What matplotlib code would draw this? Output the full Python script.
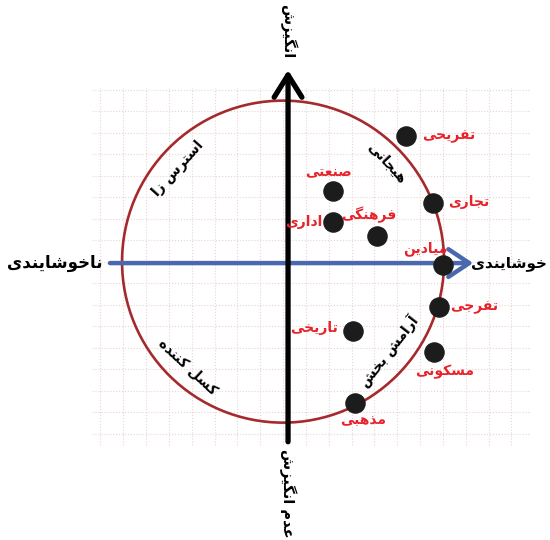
import numpy as np
import matplotlib.pyplot as plt
from matplotlib.patches import Circle, FancyArrowPatch

# Place categories and their position on the circumplex (radius = 1)
places = ["تفریحی", "صنعتی", "تجاری", "اداری", "فرهنگی",
          "میادین", "تفرجی", "تاریخی", "مسکونی", "مذهبی"]
pleasure = [0.733, 0.280, 0.901, 0.280, 0.553, 0.963, 0.938, 0.404, 0.907, 0.416]
arousal = [0.789, 0.447, 0.373, 0.255, 0.168, -0.012, -0.273, -0.422, -0.553, -0.870]

# axis and quadrant captions
axis_top = "انگیزش"
axis_bottom = "عدم انگیزش"
axis_left = "ناخوشایندی"
axis_right = "خوشایندی"
quadrants = ["استرس زا", "هیجانی", "کسل کننده", "آرامش بخش"]

# --- simple Persian shaping (matplotlib does no contextual shaping) ---
# (isolated, final, initial, medial)
FORMS = {
    'ا': ('\uFE8D', '\uFE8E', None, None),
    'آ': ('\uFE81', '\uFE82', None, None),
    'ب': ('\uFE8F', '\uFE90', '\uFE91', '\uFE92'),
    'ت': ('\uFE95', '\uFE96', '\uFE97', '\uFE98'),
    'ج': ('\uFE9D', '\uFE9E', '\uFE9F', '\uFEA0'),
    'ح': ('\uFEA1', '\uFEA2', '\uFEA3', '\uFEA4'),
    'خ': ('\uFEA5', '\uFEA6', '\uFEA7', '\uFEA8'),
    'د': ('\uFEA9', '\uFEAA', None, None),
    'ذ': ('\uFEAB', '\uFEAC', None, None),
    'ر': ('\uFEAD', '\uFEAE', None, None),
    'ز': ('\uFEAF', '\uFEB0', None, None),
    'س': ('\uFEB1', '\uFEB2', '\uFEB3', '\uFEB4'),
    'ش': ('\uFEB5', '\uFEB6', '\uFEB7', '\uFEB8'),
    'ص': ('\uFEB9', '\uFEBA', '\uFEBB', '\uFEBC'),
    'ع': ('\uFEC9', '\uFECA', '\uFECB', '\uFECC'),
    'ف': ('\uFED1', '\uFED2', '\uFED3', '\uFED4'),
    'ل': ('\uFEDD', '\uFEDE', '\uFEDF', '\uFEE0'),
    'م': ('\uFEE1', '\uFEE2', '\uFEE3', '\uFEE4'),
    'ن': ('\uFEE5', '\uFEE6', '\uFEE7', '\uFEE8'),
    'ه': ('\uFEE9', '\uFEEA', '\uFEEB', '\uFEEC'),
    'و': ('\uFEED', '\uFEEE', None, None),
    'ک': ('\uFB8E', '\uFB8F', '\uFB90', '\uFB91'),
    'گ': ('\uFB92', '\uFB93', '\uFB94', '\uFB95'),
    'ی': ('\uFBFC', '\uFBFD', '\uFBFE', '\uFBFF'),
}


def fa(text):
    out = []
    for i, ch in enumerate(text):
        if ch not in FORMS:
            out.append(ch)
            continue
        prev = text[i - 1] if i > 0 else ''
        nxt = text[i + 1] if i + 1 < len(text) else ''
        iso, fin, ini, med = FORMS[ch]
        jp = prev in FORMS and FORMS[prev][2] is not None
        jn = ini is not None and nxt in FORMS
        if jp and jn:
            out.append(med)
        elif jp:
            out.append(fin)
        elif jn:
            out.append(ini)
        else:
            out.append(iso)
    return ''.join(out)[::-1]


plt.rcParams['font.family'] = ['DejaVu Sans']

fig = plt.figure(figsize=(5.5, 5.4), dpi=100)
ax = fig.add_axes([0, 0, 1, 1])
ax.set_xlim(-1.789, 1.627)
ax.set_ylim(-1.720, 1.634)
ax.set_aspect('equal')
ax.axis('off')

# background grid
cx, cy = -0.031, 0.009
gx0, gx1, gy0, gy1 = -1.22, 1.50, -1.13, 1.09
for k in range(-10, 12):
    x = cx + k * 0.1418
    if gx0 <= x <= gx1:
        ax.plot([x, x], [gy0, gy1], color='#ebd3d3', lw=0.8, ls=':', zorder=0)
    y = cy + k * 0.1335
    if gy0 <= y <= gy1:
        ax.plot([gx0, gx1], [y, y], color='#ebd3d3', lw=0.8, ls=':', zorder=0)

# circle
ax.add_patch(Circle((cx, cy), 1.0, fill=False, ec='#a52a2d', lw=1.9, zorder=2))

# axes arrows
ax.add_patch(FancyArrowPatch((-1.106, 0.0), (1.15, 0.0),
                             arrowstyle='->,head_length=0.75,head_width=0.5',
                             mutation_scale=20, color='#4a68ad', lw=3.2,
                             shrinkA=0, shrinkB=0, zorder=3))
ax.add_patch(FancyArrowPatch((0.0, -1.11), (0.0, 1.199),
                             arrowstyle='->,head_length=0.8,head_width=0.5',
                             mutation_scale=20, color='black', lw=3.8,
                             shrinkA=0, shrinkB=0, zorder=3))

# points and labels
ax.scatter(pleasure, arousal, s=190, color='#1c1c1c', zorder=5)
offsets = [(16, 0, 'left'), (-5, 19, 'center'), (15, 1, 'left'), (-11, 0, 'right'),
           (-8, 21, 'center'), (-18, 16, 'center'), (11, 0, 'left'),
           (-15, 3, 'right'), (11, -20, 'center'), (8, -18, 'center')]
for name, x, y, (dx, dy, ha) in zip(places, pleasure, arousal, offsets):
    ax.annotate(fa(name), (x, y), xytext=(dx * 0.72, dy * 0.72),
                textcoords='offset points', ha=ha, va='center',
                color='#e8222b', fontsize=10, fontweight='bold', zorder=6)

# axis captions
ax.text(0, 1.44, fa(axis_top), rotation=-90, ha='center', va='center',
        fontsize=10.5, fontweight='bold')
ax.text(0, -1.43, fa(axis_bottom), rotation=-90, ha='center', va='center',
        fontsize=10.5, fontweight='bold')
ax.text(-1.447, 0.0, fa(axis_left), ha='center', va='center',
        fontsize=12, fontweight='bold')
ax.text(1.605, 0.0, fa(axis_right), ha='right', va='center',
        fontsize=11, fontweight='bold')

# quadrant captions along the circle
q_pos = [(-0.683, 0.590, 48), (0.615, 0.621, -47),
         (-0.621, -0.646, -43), (0.627, -0.547, 52)]
for txt, (x, y, rot) in zip(quadrants, q_pos):
    ax.text(x, y, fa(txt), rotation=rot, rotation_mode='anchor',
            ha='center', va='center', fontsize=10, fontweight='bold')

fig.savefig('out.png', dpi=100)
